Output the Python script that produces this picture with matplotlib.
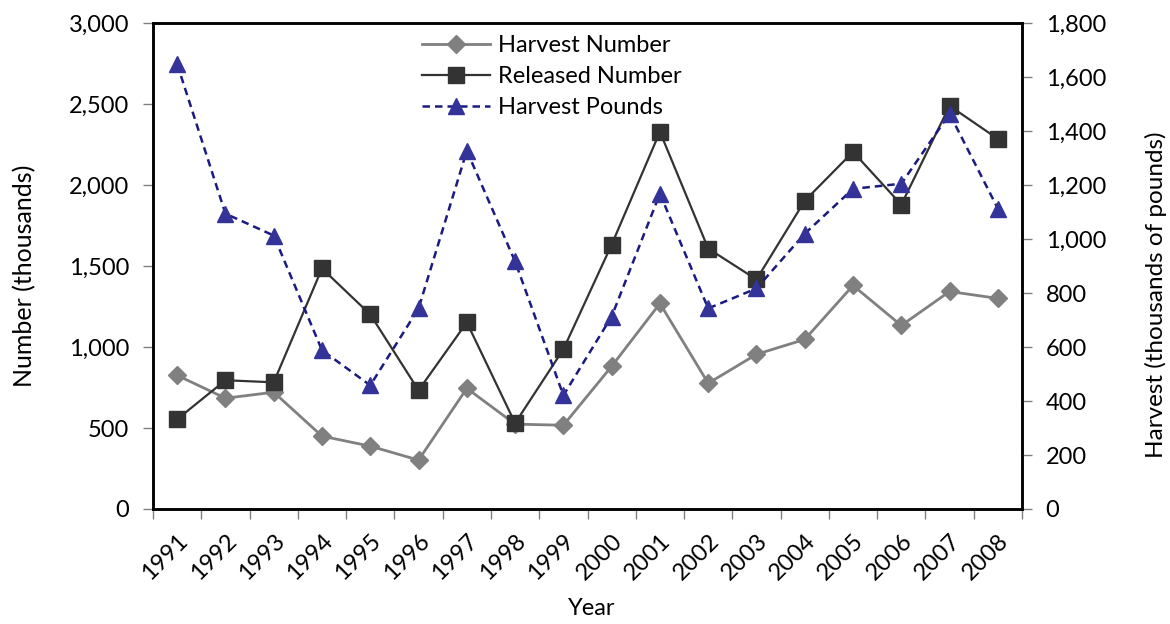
import matplotlib
matplotlib.use("Agg")
import matplotlib.pyplot as plt
from matplotlib.ticker import FuncFormatter, MultipleLocator, FixedLocator
import numpy as np

plt.rcParams['font.family'] = ['Lato', 'DejaVu Sans']

years = ['1991', '1992', '1993', '1994', '1995', '1996', '1997', '1998', '1999',
         '2000', '2001', '2002', '2003', '2004', '2005', '2006', '2007', '2008']
harvest_number = [825, 684, 721, 450, 388, 302, 745, 524, 517,
                  881, 1269, 776, 955, 1047, 1380, 1133, 1343, 1300]
released_number = [554, 795, 782, 1485, 1201, 733, 1152, 530, 986,
                   1632, 2329, 1608, 1417, 1903, 2205, 1879, 2489, 2285]
harvest_pounds = [1648, 1094, 1013, 588, 458, 743, 1327, 917, 421,
                  713, 1168, 743, 817, 1020, 1186, 1205, 1464, 1113]

x = np.arange(len(years))
comma = FuncFormatter(lambda v, p: f"{v:,.0f}")
FS = 17

fig = plt.figure(figsize=(11.7, 6.24), dpi=100)
ax = fig.add_axes([0.1308, 0.1843, 0.7427, 0.7787])
ax2 = ax.twinx()

l1, = ax.plot(x, harvest_number, color='#808080', lw=2, marker='D',
              markersize=9, label='Harvest Number', zorder=2)
l2, = ax.plot(x, released_number, color='#333333', lw=1.6, marker='s',
              markersize=11, label='Released Number', zorder=3)
l3, = ax2.plot(x, harvest_pounds, color='#1a1a80', lw=1.8, ls=(0, (3, 2)),
               marker='^', markersize=11, markerfacecolor='#333399',
               markeredgecolor='#333399', label='Harvest Pounds')

ax.set_xlim(-0.5, len(years) - 0.5)
ax.set_ylim(0, 3000)
ax2.set_ylim(0, 1800)
ax.yaxis.set_major_locator(MultipleLocator(500))
ax2.yaxis.set_major_locator(MultipleLocator(200))
ax.yaxis.set_major_formatter(comma)
ax2.yaxis.set_major_formatter(comma)

# ticks between categories, labels centred under points
ax.xaxis.set_major_locator(FixedLocator(np.arange(-0.5, len(years), 1.0)))
ax.xaxis.set_major_formatter(FuncFormatter(lambda v, p: ""))
ax.set_xticks(x, years, minor=True)
ax.tick_params(axis='x', which='minor', length=0, labelsize=FS, pad=15)
for lab in ax.get_xticklabels(minor=True):
    lab.set_rotation(45)
    lab.set_ha('right')
    lab.set_va('top')
    lab.set_rotation_mode('anchor')
ax.tick_params(axis='x', which='major', length=7, width=1, color='#808080', direction='out')
ax.tick_params(axis='y', length=7, width=1, color='#808080', labelsize=FS, pad=10)
ax2.tick_params(axis='y', length=7, width=1, color='#808080', labelsize=FS, pad=10)

for a in (ax, ax2):
    for s in a.spines.values():
        s.set_linewidth(1.8)
        s.set_color('black')

ax.set_xlabel('Year', fontsize=FS)
ax.xaxis.set_label_coords(0.505, -0.183)
ax.set_ylabel('Number (thousands)', fontsize=18)
ax.yaxis.set_label_coords(-0.1346, 0.48)
ax2.set_ylabel('Harvest (thousands of pounds)', fontsize=17.5)
ax2.yaxis.set_label_coords(1.141, 0.44)

ax.legend(handles=[l1, l2, l3], loc='upper left', bbox_to_anchor=(0.3607, 0.944),
          bbox_transform=fig.transFigure, frameon=False, fontsize=FS,
          handlelength=2.9, labelspacing=0.43, handletextpad=0.3,
          borderpad=0, borderaxespad=0)

fig.savefig('out.png', dpi=100)
